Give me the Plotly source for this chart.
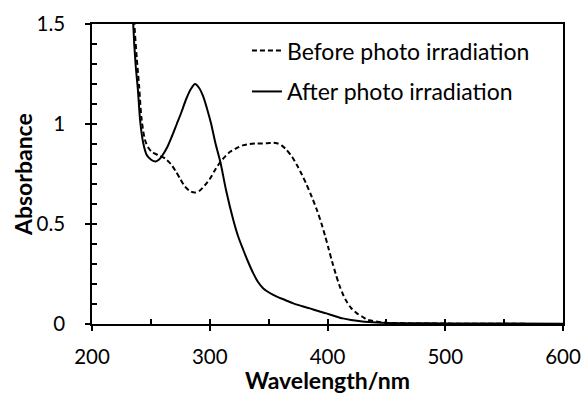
import plotly.graph_objects as go

# ---- data ----
wl_before = [235.5, 236, 238, 240, 242, 245, 248, 251, 256, 262, 267, 271, 275, 279, 283, 287,
             291, 296, 300, 305, 309, 313, 317, 322, 328, 334, 340, 345, 349, 353, 357, 361,
             365, 370, 374, 378, 382, 386, 391, 395, 398, 401, 404, 407, 410, 413, 416, 420,
             425, 430, 434, 438, 442, 450, 470, 500, 550, 600]
abs_before = [1.6, 1.5, 1.33, 1.19, 1.03, 0.92, 0.88, 0.86, 0.845, 0.828, 0.80, 0.765, 0.725, 0.687, 0.665, 0.657,
              0.665, 0.695, 0.725, 0.775, 0.81, 0.837, 0.86, 0.877, 0.893, 0.90, 0.903, 0.903, 0.904, 0.906, 0.904, 0.893,
              0.872, 0.835, 0.795, 0.75, 0.70, 0.645, 0.57, 0.50, 0.44, 0.375, 0.31, 0.25, 0.195, 0.15, 0.115, 0.08,
              0.053, 0.035, 0.022, 0.016, 0.012, 0.006, 0.003, 0.002, 0.001, 0.0]

wl_after = [234.5, 235, 237, 239, 241, 243.5, 246.5, 250.5, 254, 257, 260, 264, 268, 272, 276, 280,
            284, 287.5, 291, 294.5, 298, 301, 305, 309, 314, 320, 324, 328.5, 333, 337, 341, 345.5,
            351, 357, 364, 371, 378, 385, 392, 399, 406, 413, 420, 428, 435, 442, 450, 470, 500, 550, 600]
abs_after = [1.6, 1.5, 1.3, 1.17, 1.01, 0.905, 0.845, 0.82, 0.812, 0.822, 0.845, 0.885, 0.94, 1.0, 1.06, 1.125,
             1.175, 1.2, 1.18, 1.137, 1.07, 1.005, 0.9, 0.81, 0.665, 0.52, 0.44, 0.37, 0.305, 0.253, 0.21, 0.178,
             0.155, 0.137, 0.12, 0.103, 0.09, 0.078, 0.065, 0.053, 0.04, 0.028, 0.02, 0.014, 0.01, 0.007, 0.005,
             0.004, 0.003, 0.002, 0.001]

x_ticks = [200, 300, 400, 500, 600]
y_ticks = [0, 0.5, 1, 1.5]
y_tick_labels = ["0", "0.5", "1", "1.5"]
x_title = "Wavelength/nm"
y_title = "Absorbance"

FONT = "Lato"
FS = 23
TFS = 20.5
fig = go.Figure()
fig.add_trace(go.Scatter(x=wl_before, y=abs_before, mode="lines", name="Before photo irradiation",
                         line=dict(color="black", width=2, dash="5px,3px", shape="spline", smoothing=0.8),
                         legendgroup="a"))
fig.add_trace(go.Scatter(x=wl_after, y=abs_after, mode="lines", name="After photo irradiation",
                         line=dict(color="black", width=2, shape="spline", smoothing=0.8),
                         legendgroup="b", xaxis="x2", yaxis="y2"))

fig.update_layout(
    width=581, height=394,
    margin=dict(l=92, r=18, t=24, b=70, autoexpand=False),
    paper_bgcolor="white", plot_bgcolor="white",
    font=dict(family=FONT, color="black", size=FS),
    showlegend=True,
    legend=dict(x=0.329, y=0.983, xanchor="left", yanchor="top", bgcolor="rgba(0,0,0,0)",
                font=dict(size=FS), tracegroupgap=8, itemwidth=30),
    xaxis=dict(range=[200, 600], tickvals=x_ticks, ticks="outside", ticklen=5, tickwidth=1.5,
               tickcolor="black", showline=True, linecolor="black", linewidth=1.5, mirror=True,
               showgrid=False, zeroline=False, ticklabelstandoff=9, automargin=False,
               ticklabeloverflow="allow", tickfont=dict(size=TFS),
               title=dict(text="<b>" + x_title + "</b>", standoff=6, font=dict(size=FS))),
    yaxis=dict(range=[0, 1.5], tickvals=y_ticks, ticktext=y_tick_labels, ticks="outside", ticklen=5,
               tickwidth=1.5, tickcolor="black", showline=True, linecolor="black", linewidth=1.5,
               mirror=True, showgrid=False, zeroline=False, ticklabelstandoff=16, automargin=False,
               ticklabeloverflow="allow", tickfont=dict(size=TFS)),
    xaxis2=dict(range=[200, 600], overlaying="x", anchor="y", side="bottom", dtick=50, tick0=200,
                ticks="inside", ticklen=5, tickwidth=1.5, tickcolor="black", showticklabels=False,
                showline=False, showgrid=False, zeroline=False, automargin=False),
    yaxis2=dict(range=[0, 1.5], overlaying="y", anchor="x", side="left", dtick=0.1, tick0=0,
                ticks="inside", ticklen=5, tickwidth=1.5, tickcolor="black", showticklabels=False,
                showline=False, showgrid=False, zeroline=False, automargin=False),
    annotations=[dict(text="<b>" + y_title + "</b>", xref="paper", yref="paper", x=-0.1465, y=0.5,
                      xanchor="center", yanchor="middle", textangle=-90, showarrow=False,
                      font=dict(size=FS))],
)

fig.write_html("out.html")
